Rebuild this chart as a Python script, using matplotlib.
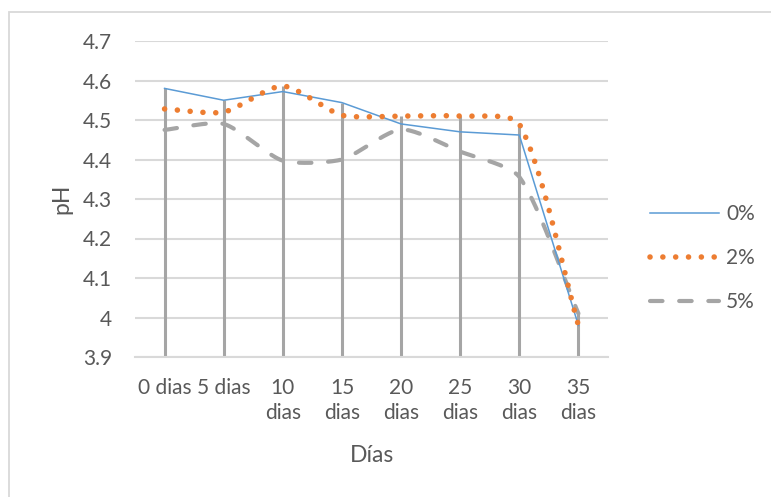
import numpy as np
import matplotlib
matplotlib.use('Agg')
import matplotlib.pyplot as plt
from matplotlib.patches import Rectangle

# datos de pH por tratamiento
dias = ['0 dias', '5 dias', '10\ndias', '15\ndias', '20\ndias', '25\ndias', '30\ndias', '35\ndias']
ph_0 = [4.58, 4.55, 4.572, 4.544, 4.49, 4.47, 4.462, 3.98]
ph_2 = [4.528, 4.52, 4.586, 4.512, 4.51, 4.51, 4.49, 3.98]
ph_5 = [4.475, 4.49, 4.397, 4.40, 4.476, 4.42, 4.356, 4.01]

plt.rcParams['font.family'] = ['Lato', 'DejaVu Sans']
GRIS_TEXTO = '#595959'
GRIS_LINEA = '#D9D9D9'

# escala aproximada en pixeles (ancho de categoria, alto de una unidad de pH)
PX_X, PX_Y = 59.1, 395.0


# curva suavizada con bezier; tangentes calculadas en escala de pantalla
def suavizar(x, y, k=0.22, n=40):
    p = np.column_stack([np.asarray(x) * PX_X, np.asarray(y) * PX_Y]).astype(float)
    m = len(p)
    d = np.zeros_like(p)
    for i in range(m):
        a = p[max(i - 1, 0)]
        b = p[min(i + 1, m - 1)]
        v = b - a
        d[i] = v / np.linalg.norm(v)
    xs, ys = [], []
    for i in range(m - 1):
        p1, p2 = p[i], p[i + 1]
        L = np.linalg.norm(p2 - p1)
        c1 = p1 + d[i] * L * k
        c2 = p2 - d[i + 1] * L * k
        t = np.linspace(0, 1, n)[:, None]
        b = ((1 - t) ** 3) * p1 + 3 * ((1 - t) ** 2) * t * c1 + 3 * (1 - t) * t ** 2 * c2 + t ** 3 * p2
        xs.extend(b[:, 0] / PX_X)
        ys.extend(b[:, 1] / PX_Y)
    return np.array(xs), np.array(ys)


fig = plt.figure(figsize=(7.71, 4.97), dpi=100)
ax = fig.add_axes([135 / 771, 1 - 357 / 497, 473 / 771, 316 / 497])

x = np.arange(len(dias))

# lineas de proyeccion desde el valor mas alto
tope = np.maximum(np.maximum(ph_0, ph_2), ph_5)
ax.vlines(x, 3.9, tope, color='#A5A5A5', lw=2.2, zorder=2)

ax.plot(x, ph_0, color='#5B9BD5', lw=1.1, label='0%', zorder=4)
xs, ys = suavizar(x, ph_2)
ax.plot(xs, ys, color='#ED7D31', lw=4.0, linestyle=(0, (0.01, 2.3)),
        dash_capstyle='round', label='2%', zorder=5)
xs, ys = suavizar(x, ph_5)
ax.plot(xs, ys, color='#A5A5A5', lw=3.0, linestyle=(0, (3, 4)),
        dash_capstyle='round', label='5%', zorder=3)

ax.set_xlim(-0.5, len(dias) - 0.5)
ax.set_ylim(3.9, 4.7)
ax.set_yticks(np.arange(3.9, 4.71, 0.1))
ax.set_yticklabels(['3.9', '4', '4.1', '4.2', '4.3', '4.4', '4.5', '4.6', '4.7'])
ax.set_xticks(x)
ax.set_xticklabels(dias, linespacing=1.35)
ax.grid(axis='y', color=GRIS_LINEA, lw=1.5, zorder=0)
ax.set_axisbelow(True)
for s in ['top', 'right', 'left']:
    ax.spines[s].set_visible(False)
ax.spines['bottom'].set_color(GRIS_LINEA)
ax.spines['bottom'].set_linewidth(1.5)
ax.tick_params(axis='both', length=0, labelsize=15, colors=GRIS_TEXTO)
ax.tick_params(axis='y', pad=16.5)
ax.tick_params(axis='x', pad=15)

fig.text(62 / 771, 1 - 199 / 497, 'pH', rotation=90, fontsize=16.5,
         color=GRIS_TEXTO, ha='center', va='center')
fig.text(372 / 771, 1 - 455 / 497, 'Días', fontsize=16.5,
         color=GRIS_TEXTO, ha='center', va='center')

ax.legend(loc='center left', bbox_to_anchor=(650 / 771, 1 - 258 / 497),
          bbox_transform=fig.transFigure, frameon=False, fontsize=15,
          handlelength=3.3, handletextpad=0.35, labelspacing=1.15,
          borderpad=0, borderaxespad=0, labelcolor=GRIS_TEXTO)

# borde del area del grafico
fig.patches.append(Rectangle((8.5 / 771, -0.1), 1.2, 1 - 11.5 / 497 + 0.1,
                             transform=fig.transFigure, fill=False,
                             edgecolor=GRIS_LINEA, lw=1.3))

fig.savefig('out.png', dpi=100)
